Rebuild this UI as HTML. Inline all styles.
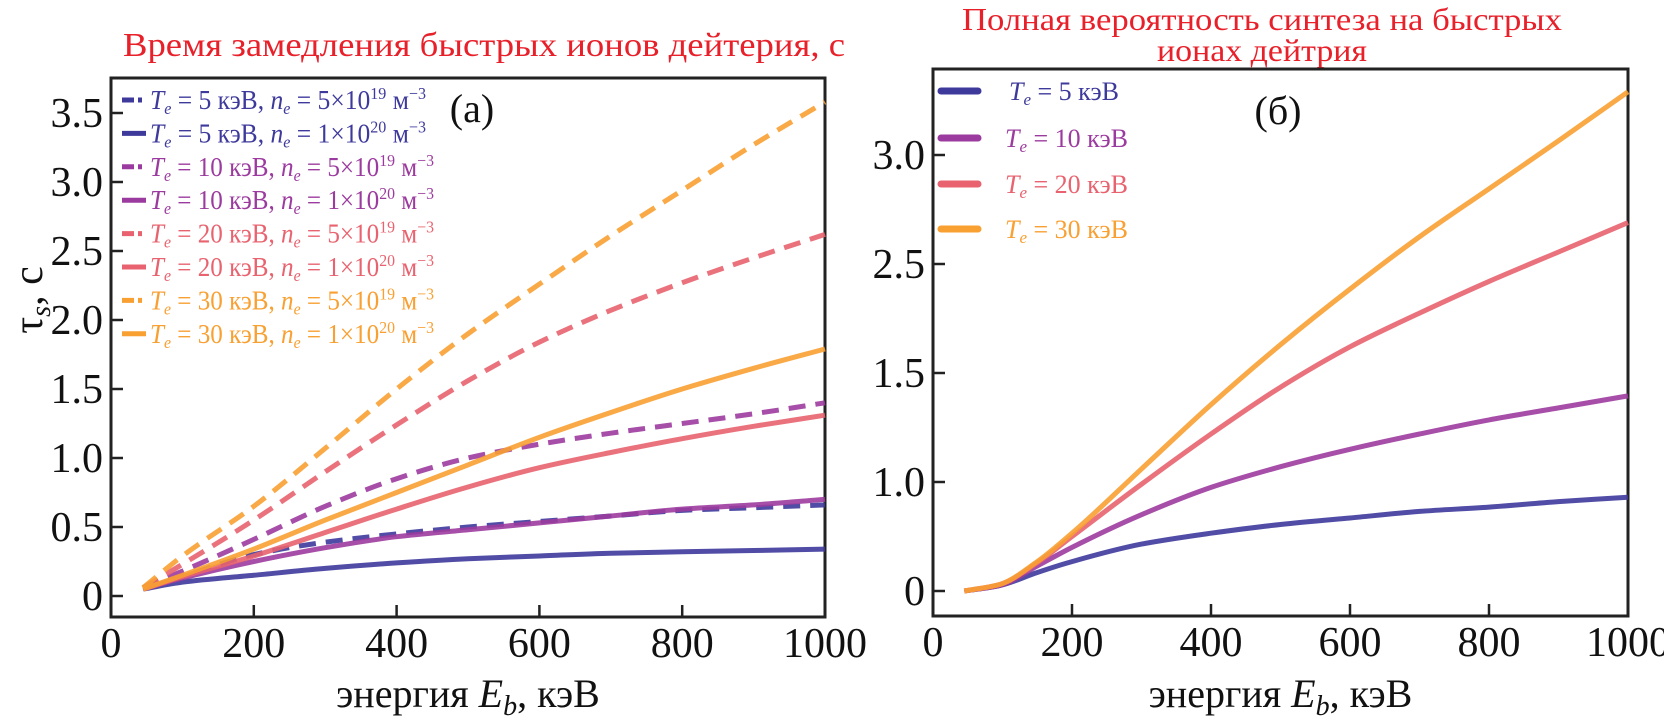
<!DOCTYPE html>
<html><head><meta charset="utf-8"><style>
html,body{margin:0;padding:0;background:#fff;}
svg{display:block;font-family:"Liberation Serif","Noto Serif CJK SC",serif;}
svg text{font-family:"Liberation Serif","Noto Serif CJK SC",serif;}
</style></head><body>
<svg id="chart" width="1664" height="723" viewBox="0 0 1664 723" xmlns="http://www.w3.org/2000/svg">
<g id="pa"></g>
<g id="pb"></g>
</svg>
<script>
// ---- data panel a ----
const energiesA = [45,100,200,300,400,500,600,700,800,900,1000];
const blueDashA   = [0.05,0.14,0.30,0.39,0.45,0.50,0.54,0.58,0.62,0.64,0.66];
const blueSolidA  = [0.05,0.10,0.15,0.20,0.24,0.27,0.29,0.31,0.32,0.33,0.34];
const purpDashA   = [0.06,0.18,0.41,0.65,0.85,1.00,1.10,1.18,1.25,1.32,1.40];
const purpSolidA  = [0.05,0.13,0.25,0.35,0.43,0.48,0.53,0.58,0.63,0.66,0.70];
const redDashA    = [0.06,0.23,0.55,0.90,1.24,1.56,1.84,2.07,2.27,2.45,2.62];
const redSolidA   = [0.05,0.14,0.29,0.46,0.63,0.79,0.93,1.04,1.14,1.23,1.31];
const orDashA     = [0.06,0.29,0.65,1.07,1.50,1.90,2.26,2.61,2.94,3.27,3.58];
const orSolidA    = [0.05,0.15,0.34,0.55,0.75,0.95,1.15,1.33,1.50,1.65,1.79];
const xTicksA = [0,200,400,600,800,1000];
const yTicksA = [0,0.5,1.0,1.5,2.0,2.5,3.0,3.5];
const yTickLabelsA = ["0","0.5","1.0","1.5","2.0","2.5","3.0","3.5"];
// ---- data panel b (values in axis-tick units; labels as printed) ----
const energiesB = [45,96,150,200,300,400,500,600,700,800,900,1000];
const blueB   = [0,0.05,0.17,0.27,0.43,0.53,0.61,0.67,0.73,0.77,0.82,0.86];
const purpB   = [0,0.05,0.23,0.40,0.70,0.95,1.14,1.30,1.44,1.57,1.68,1.79];
const redB    = [0,0.06,0.26,0.50,0.98,1.44,1.87,2.24,2.55,2.84,3.11,3.38];
const orB     = [0,0.06,0.27,0.53,1.12,1.71,2.26,2.77,3.25,3.69,4.13,4.58];
const xTicksB = [0,200,400,600,800,1000];
const yTicksB = [0,1,2,3,4];
const yTickLabelsB = ["0","1.0","1.5","2.5","3.0"];

const C = {blue:"#3e3a9c", purple:"#9c3b9f", red:"#e8636f", orange:"#f8a032"};
const FF='"Liberation Serif","Noto Serif CJK SC",serif';
const NS="http://www.w3.org/2000/svg";
function mk(parent, tag, attrs, text){
  const e=document.createElementNS(NS,tag);
  for(const k in attrs) e.setAttribute(k,attrs[k]);
  if(tag==="text") e.setAttribute("font-family",FF);
  if(text!==undefined) e.textContent=text;
  parent.appendChild(e); return e;
}
// monotone cubic (Fritsch–Carlson) in pixel space
function smoothPath(pts){
  const n=pts.length, dx=[], m=[], t=new Array(n);
  for(let i=0;i<n-1;i++){dx.push(pts[i+1][0]-pts[i][0]); m.push((pts[i+1][1]-pts[i][1])/dx[i]);}
  t[0]=m[0]; t[n-1]=m[n-2];
  for(let i=1;i<n-1;i++){
    if(m[i-1]*m[i]<=0) t[i]=0;
    else {const w1=2*dx[i]+dx[i-1], w2=dx[i]+2*dx[i-1]; t[i]=(w1+w2)/(w1/m[i-1]+w2/m[i]);}
  }
  let d="M"+pts[0][0].toFixed(1)+","+pts[0][1].toFixed(1);
  for(let i=0;i<n-1;i++){
    const h=dx[i]/3;
    d+=" C"+(pts[i][0]+h).toFixed(1)+","+(pts[i][1]+t[i]*h).toFixed(1)+" "+(pts[i+1][0]-h).toFixed(1)+","+(pts[i+1][1]-t[i+1]*h).toFixed(1)+" "+pts[i+1][0].toFixed(1)+","+pts[i+1][1].toFixed(1);
  }
  return d;
}
function axes(g, o){
  const fr=mk(g,"rect",{x:o.L,y:o.T,width:o.R-o.L,height:o.B-o.T,fill:"none",stroke:"#222","stroke-width":3});
  
  
  o.xt.forEach(v=>{
    const x=o.sx(v);
    if(v>0&&v<1000){
      const t=mk(g,"line",{x1:x,y1:o.B,x2:x,y2:o.B-12,stroke:"#222","stroke-width":2.5});
      
      
    }
    const l=mk(g,"text",{x:x,y:o.B+40,"font-size":42,"text-anchor":"middle",fill:"#111"},String(v));
    
    
  });
  o.yt.forEach((v,i)=>{
    const y=o.sy(v);
    const t=mk(g,"line",{x1:o.L,y1:y,x2:o.L+12,y2:y,stroke:"#222","stroke-width":2.5});
    
    
    const l=mk(g,"text",{x:o.L-8,y:y+14,"font-size":42,"text-anchor":"end",fill:"#111"},o.yl[i]);
    
    
  });
  const xt=mk(g,"text",{x:(o.L+o.R)/2,y:707,"font-size":40,"text-anchor":"middle",fill:"#111"});
  
  
  mk(xt,"tspan",{},"энергия ");
  mk(xt,"tspan",{"font-style":"italic"},"E");
  mk(xt,"tspan",{"font-style":"italic","font-size":28,dy:8},"b");
  mk(xt,"tspan",{dy:-8},", кэВ");
}
function line(g,xs,ys,sx,sy,color,dashed,name){
  const pts=xs.map((x,i)=>[sx(x),sy(ys[i])]);
  const p=mk(g,"path",{d:smoothPath(pts),fill:"none",stroke:color,"stroke-width":5,"stroke-linecap":"butt",opacity:0.9});
  if(dashed) p.setAttribute("stroke-dasharray","17 10");
  
  
}

// ---------- Panel A ----------
const ga=document.getElementById("pa");
const A={L:111,R:825,T:78,B:617};
A.sx=v=>111+v*0.714; A.sy=v=>596-v*138;
A.xt=xTicksA; A.yt=yTicksA; A.yl=yTickLabelsA;
const ta=mk(ga,"text",{x:484,y:56,"font-size":34,"text-anchor":"middle",fill:"#e8202a",textLength:722,lengthAdjust:"spacingAndGlyphs"},"Время замедления быстрых ионов дейтерия, с");


axes(ga,A);
const yta=mk(ga,"text",{x:0,y:0,"font-size":42,"text-anchor":"middle",fill:"#111",transform:"translate(42,300) rotate(-90)"});


yta.textContent="τ";
mk(yta,"tspan",{"font-style":"italic","font-size":28,dy:8},"s");
mk(yta,"tspan",{dy:-8},", с");
const pa=mk(ga,"text",{x:472,y:122,"font-size":40,"text-anchor":"middle",fill:"#111"},"(а)");


const seriesA=[
 [blueDashA,C.blue,true,"5","5×10","19","series-5kev-5e19"],
 [blueSolidA,C.blue,false,"5","1×10","20","series-5kev-1e20"],
 [purpDashA,C.purple,true,"10","5×10","19","series-10kev-5e19"],
 [purpSolidA,C.purple,false,"10","1×10","20","series-10kev-1e20"],
 [redDashA,C.red,true,"20","5×10","19","series-20kev-5e19"],
 [redSolidA,C.red,false,"20","1×10","20","series-20kev-1e20"],
 [orDashA,C.orange,true,"30","5×10","19","series-30kev-5e19"],
 [orSolidA,C.orange,false,"30","1×10","20","series-30kev-1e20"]];
seriesA.forEach(s=>line(ga,energiesA,s[0],A.sx,A.sy,s[1],s[2],s[6]));
seriesA.forEach((s,i)=>{
  const y=100+i*33.4;
  const le=mk(ga,"g",{});
  
  
  const sym=mk(le,"line",{x1:122,y1:y,x2:146,y2:y,stroke:s[1],"stroke-width":5});
  if(s[2]) sym.setAttribute("stroke-dasharray","12 4 4 4");
  const t=mk(le,"text",{x:150,y:y+9,"font-size":27,fill:s[1],textLength:(s[3].length>1?284:276),lengthAdjust:"spacingAndGlyphs"});
  mk(t,"tspan",{"font-style":"italic"},"T");
  mk(t,"tspan",{"font-style":"italic","font-size":17,dy:5},"e");
  mk(t,"tspan",{dy:-5}," = "+s[3]+" кэВ, ");
  mk(t,"tspan",{"font-style":"italic"},"n");
  mk(t,"tspan",{"font-style":"italic","font-size":17,dy:5},"e");
  mk(t,"tspan",{dy:-5}," = "+s[4]);
  mk(t,"tspan",{"font-size":17,dy:-10},s[5]);
  mk(t,"tspan",{dy:10}," м");
  mk(t,"tspan",{"font-size":17,dy:-10},"−3");
});

// ---------- Panel B ----------
const gb=document.getElementById("pb");
const B={L:933,R:1628,T:69,B:616};
B.sx=v=>933+v*0.695; B.sy=v=>591-v*109;
B.xt=xTicksB; B.yt=yTicksB; B.yl=yTickLabelsB;
const tb1=mk(gb,"text",{x:1262,y:30,"font-size":32,"text-anchor":"middle",fill:"#e8202a",textLength:600,lengthAdjust:"spacingAndGlyphs"},"Полная вероятность синтеза на быстрых");


const tb2=mk(gb,"text",{x:1262,y:61,"font-size":32,"text-anchor":"middle",fill:"#e8202a",textLength:210,lengthAdjust:"spacingAndGlyphs"},"ионах дейтрия");


axes(gb,B);
const pbl=mk(gb,"text",{x:1278,y:124,"font-size":40,"text-anchor":"middle",fill:"#111"},"(б)");


const seriesB=[[blueB,C.blue,"5","series-5kev"],[purpB,C.purple,"10","series-10kev"],[redB,C.red,"20","series-20kev"],[orB,C.orange,"30","series-30kev"]];
seriesB.forEach(s=>line(gb,energiesB,s[0],B.sx,B.sy,s[1],false,s[3]));
seriesB.forEach((s,i)=>{
  const y=[91,138,184,229][i];
  const le=mk(gb,"g",{});
  
  
  mk(le,"line",{x1:941,y1:y,x2:978,y2:y,stroke:s[1],"stroke-width":7,"stroke-linecap":"round"});
  const t=mk(le,"text",{x:(i==0?1009:1005),y:y+9,"font-size":26,fill:s[1]});
  mk(t,"tspan",{"font-style":"italic"},"T");
  mk(t,"tspan",{"font-style":"italic","font-size":17,dy:5},"e");
  mk(t,"tspan",{dy:-5}," = "+s[2]+" кэВ");
});
</script>
</body></html>
